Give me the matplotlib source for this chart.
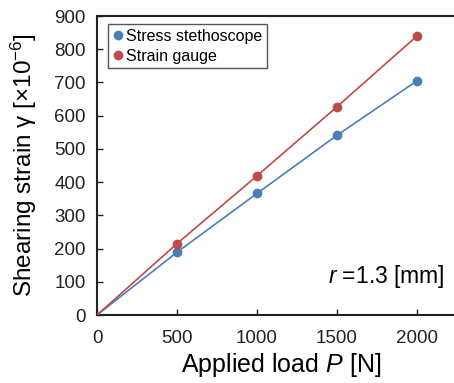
import matplotlib
matplotlib.use("Agg")
import matplotlib.pyplot as plt

# applied load [N]
LOADS = [0, 500, 1000, 1500, 2000]
# shearing strain [x10^-6]
STETHOSCOPE = [0, 189, 366, 541, 705]
GAUGE = [0, 215, 419, 627, 840]

BLUE = "#4a7ebb"
RED = "#be4b48"

plt.rcParams["font.family"] = ["Liberation Sans", "DejaVu Sans"]
plt.rcParams["mathtext.fontset"] = "custom"
plt.rcParams["mathtext.rm"] = "Liberation Sans"
plt.rcParams["mathtext.it"] = "Liberation Sans:italic"


def draw() -> None:
    fig = plt.figure(figsize=(4.54, 3.83), dpi=100)
    # plot area runs past the right edge of the picture (cropped original)
    ax = fig.add_axes([0.2137, 0.1775, 0.8106, 0.7807])

    ax.plot(LOADS, STETHOSCOPE, color=BLUE, lw=1.2, marker="o", ms=6,
            markevery=slice(1, None), label="Stress stethoscope", zorder=3)
    ax.plot(LOADS, GAUGE, color=RED, lw=1.2, marker="o", ms=6,
            markevery=slice(1, None), label="Strain gauge", zorder=3)

    ax.set_xlim(0, 2300)
    ax.set_ylim(0, 900)
    ax.set_xticks([0, 500, 1000, 1500, 2000])
    ax.set_yticks(range(0, 901, 100))
    ax.tick_params(direction="in", length=4, width=1, labelsize=13.5, pad=8, colors="#222222")
    ax.tick_params(axis="x", pad=11)
    for s in ax.spines.values():
        s.set_linewidth(1.5)
        s.set_color("#222222")

    ax.set_xlabel("Applied load $P$ [N]", fontsize=18, labelpad=3)
    ax.set_ylabel("Shearing strain \u03b3 [\u00d710$^{-6}$]", fontsize=17.5, labelpad=11)

    fig.text(445 / 454, 1 - 277 / 383, "$r$ =1.3 [mm]", ha="right", va="center", fontsize=16.5)

    leg = ax.legend(loc="upper left", bbox_to_anchor=(0.03, 0.973), borderaxespad=0,
                    fontsize=11.5, handlelength=0.6, handletextpad=0.25, borderpad=0.3,
                    labelspacing=0.3, fancybox=False, framealpha=1)
    leg.get_frame().set_edgecolor("#555555")
    leg.get_frame().set_linewidth(1.0)
    for h in leg.legend_handles:
        h.set_linestyle("none")

    fig.savefig("out.png", dpi=100)


draw()
